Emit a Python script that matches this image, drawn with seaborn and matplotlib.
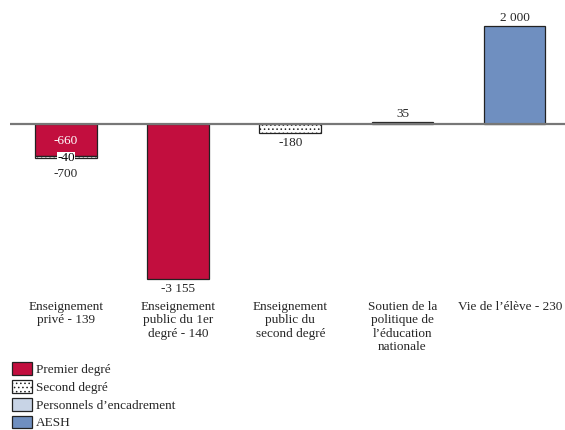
import matplotlib.pyplot as plt
import matplotlib.patches as mpatches
import matplotlib.transforms as mtrans
import numpy as np
import seaborn as sns

categories = [
    "Enseignement\nprivé - 139",
    "Enseignement\npublic du 1er\ndegré - 140",
    "Enseignement\npublic du\nsecond degré",
    "Soutien de la\npolitique de\nl’éducation\nnationale",
    "Vie de l’élève - 230",
]
series = ["Premier degré", "Second degré", "Personnels d’encadrement", "AESH"]
premier = [-660, -3155, 0, 0, 0]
second = [-40, 0, -180, 0, 0]
encadrement = [0, 0, 0, 35, 0]
aesh = [0, 0, 0, 0, 2000]
totals = [-700, -3155, -180, 35, 2000]

colors = ["#C20E3E", "#FFFFFF", "#C8D4E6", "#6F8FC0"]
hatches = [None, "....", None, None]

sns.set_theme(style="white")
plt.rcParams["font.family"] = ["Liberation Serif", "DejaVu Serif"]
plt.rcParams["hatch.color"] = "#555555"
plt.rcParams["hatch.linewidth"] = 0.6


def fmt(v):
    return f"{v:,.0f}".replace(",", " ")


fig = plt.figure(figsize=(5.65, 4.3), dpi=100)
ax = fig.add_axes([10 / 565, 1 - 290 / 430, 555 / 565, 280 / 430])

x = np.arange(len(categories))
pos_base = np.zeros(len(categories))
neg_base = np.zeros(len(categories))
for name, vals, col, hat in zip(series, [premier, second, encadrement, aesh], colors, hatches):
    vals = np.array(vals, dtype=float)
    bottom = np.where(vals >= 0, pos_base, neg_base)
    mask = vals != 0
    ax.bar(x[mask], vals[mask], bottom=bottom[mask], width=0.55, color=col,
           edgecolor="#222222", linewidth=0.9, hatch=hat, label=name)
    pos_base += np.where(vals > 0, vals, 0)
    neg_base += np.where(vals < 0, vals, 0)

ax.axhline(0, color="#777777", linewidth=1.6, zorder=3)

fs = 9.5
# segment labels on the first bar
ax.text(0, premier[0] / 2 - 20, fmt(premier[0]), color="white", ha="center", va="center", fontsize=fs)
ax.text(0, premier[0] + second[0] / 2 - 20, fmt(second[0]), color="black", ha="center", va="center",
        fontsize=fs, bbox=dict(facecolor="white", edgecolor="none", pad=0.3))
# totals
for i, t in enumerate(totals):
    if t >= 0:
        ax.text(i, t + 40, fmt(t), ha="center", va="bottom", fontsize=fs)
    else:
        gap = 200 if i == 0 else 90
        ax.text(i, t - gap, fmt(t), ha="center", va="top", fontsize=fs)

ax.set_xlim(-0.5, 4.45)
ax.set_ylim(-3387, 2326)
ax.set_yticks([])
ax.set_xticks(x)
ax.set_xticklabels(categories, fontsize=fs, linespacing=1.15)
ax.tick_params(axis="x", length=0, pad=8)
# keep the last label inside the figure
last = ax.get_xticklabels()[-1]
last.set_transform(last.get_transform() + mtrans.ScaledTranslation(-4 / 100, 0, fig.dpi_scale_trans))
sns.despine(ax=ax, left=True, bottom=True)

handles = [mpatches.Patch(facecolor=c, edgecolor="#222222", hatch=h, linewidth=0.9)
           for c, h in zip(colors, hatches)]
fig.legend(handles, series, loc="upper left", bbox_to_anchor=(0.012, 1 - 357 / 430),
           frameon=False, fontsize=fs, handlelength=1.5, handleheight=1.1,
           handletextpad=0.3, labelspacing=0.3, borderaxespad=0)

fig.savefig("out.png", dpi=100)
